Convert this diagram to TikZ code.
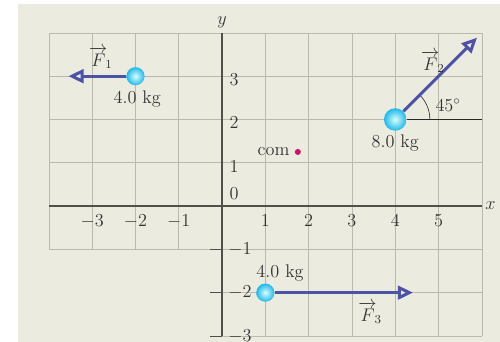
\documentclass[tikz,border=0pt]{standalone}
\usepackage{amsmath}
\usetikzlibrary{arrows.meta}
\definecolor{panel}{RGB}{236,235,224}
\definecolor{gridgray}{RGB}{185,185,172}
\definecolor{axisgray}{RGB}{80,80,75}
\definecolor{forceblue}{RGB}{78,82,165}
\definecolor{ballcyan}{RGB}{30,185,235}
\definecolor{commagenta}{RGB}{205,20,105}
\begin{document}
\begin{tikzpicture}[>={Triangle[open,fill=forceblue!12!white,length=10pt,width=9pt]},
  mass/.style={circle,inner sep=0pt,minimum size=#1,shading=radial,
    inner color=cyan!15!white,outer color=ballcyan},
  force/.style={->,forceblue,line width=2pt},
  lab/.style={font=\fontsize{12}{14}\selectfont,text=black!80}]
\useasboundingbox (-5.13,-3.14) rectangle (6.42,4.76);
\fill[panel] (-4.71,-3.2) rectangle (6.5,4.67);
% grid
\draw[gridgray,thin] (0,-3) grid (6,4);
\draw[gridgray,thin] (-4,-1) grid (0,4);
% axes
\draw[axisgray,thick] (-4,0) -- (6,0);
\draw[axisgray,thick] (0,-3) -- (0,4);
\foreach \y in {-1,-2,-3} \draw[axisgray] (-0.28,\y) -- (0,\y);
\node[lab] (xlab) at (6.2,0) {$x$};
\node[lab] (ylab) at (0,4.25) {$y$};
\foreach \x in {-3,-2,-1,1,2,3,4,5}
  \node[lab,anchor=north] (xt\x) at (\x,-0.08) {$\x$};
\foreach \y in {1,2,3}
  \node[lab,anchor=west] (yt\y) at (0.05,\y-0.08) {$\y$};
\foreach \y in {-1,-2,-3}
  \node[lab,anchor=west] (yt\y) at (0.02,\y) {$\y$};
\node[lab,anchor=south west] (yt0) at (0.05,0.02) {$0$};
% masses
\node[mass=0.42cm] (m1) at (-2,3) {};
\node[mass=0.52cm] (m2) at (4,2) {};
\node[mass=0.42cm] (m3) at (1,-2) {};
\node[lab] (m1lab) at (-1.96,2.47) {4.0 kg};
\node[lab] (m2lab) at (4,1.45) {8.0 kg};
\node[lab] (m3lab) at (1.34,-1.55) {4.0 kg};
% forces
\coordinate (f1tip) at (-3.55,3);
\coordinate (f2tip) at (5.89,3.89);
\coordinate (f3tip) at (4.41,-2);
\draw[black!85,thick] (m2) -- (6,2);
\draw[black!85] (4.8,2) arc (0:45:0.8);
\draw[force] (m1) -- (f1tip);
\draw[force] (m2) -- (f2tip);
\draw[force] (m3) -- (f3tip);
\node[lab] (f1lab) at (-2.8,3.42) {$\overrightarrow{F}_{\!1}$};
\node[lab] (f2lab) at (4.87,3.33) {$\overrightarrow{F}_{\!2}$};
\node[lab] (f3lab) at (3.42,-2.47) {$\overrightarrow{F}_{\!3}$};
\node[lab] (anglab) at (5.22,2.33) {$45^\circ$};
% center of mass
\fill[commagenta] (1.75,1.25) circle (0.07) coordinate (com);
\node[lab,anchor=east] (comlab) at (1.68,1.25) {com};
\end{tikzpicture}
\end{document}
